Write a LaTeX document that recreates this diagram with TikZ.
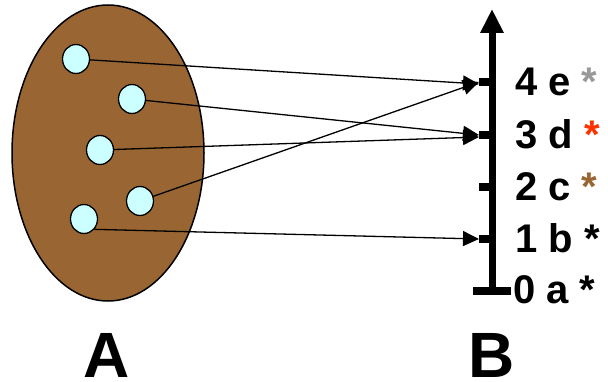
\documentclass[tikz,border=0pt]{standalone}
\usepackage{fontspec}
\setmainfont{Liberation Sans}
\usepackage{tikz}
\usetikzlibrary{shapes.geometric, arrows.meta}

\definecolor{setbrown}{HTML}{996633}
\definecolor{dotcyan}{HTML}{CCFFFF}
\definecolor{stargray}{HTML}{999999}
\definecolor{starred}{HTML}{FF3300}

\begin{document}
\begin{tikzpicture}[
  x=1pt, y=-1pt,
  every node/.style={font=\bfseries},
  elem/.style={ellipse, draw, line width=1.3pt, fill=dotcyan, minimum width=27pt, minimum height=29pt, inner sep=0pt},
  map/.style={-{Triangle[length=16pt,width=15pt]}, line width=1.3pt},
  tick/.style={line width=8pt},
  lab/.style={anchor=base west, font=\bfseries\fontsize{40}{40}\selectfont, inner sep=0pt},
]
  \useasboundingbox (0,0) rectangle (608,382);

  % set A
  \node[ellipse, draw, line width=1.5pt, fill=setbrown, minimum width=192pt, minimum height=296pt] (A) at (108,153) {};
  \node[elem] (a1) at (76,59) {};
  \node[elem] (a2) at (132,99) {};
  \node[elem] (a3) at (100,150) {};
  \node[elem] (a4) at (140,201) {};
  \node[elem] (a5) at (84,219) {};

  % axis B
  \coordinate (bot) at (492,291);
  \coordinate (top) at (492,9);
  \draw[line width=7pt, -{Triangle[length=24pt,width=22pt]}] (bot) -- (top);
  \draw[tick] (473,291) -- (511,291);
  \foreach \y/\n in {82/4, 135/3, 187/2, 239/1} {
    \draw[tick] (479,\y) -- (492,\y);
    \coordinate (t\n) at (479,\y);
  }

  \node[lab] (l4) at (515,96) {4 e {\color{stargray}*}};
  \node[lab] (l3) at (515,149) {3 d {\color{starred}*}};
  \node[lab] (l2) at (515,201) {2 c {\color{setbrown}*}};
  \node[lab] (l1) at (515,253) {1 b *};
  \node[lab] (l0) at (513,303) {0 a *};

  % mapping
  \draw[map] (a1) -- ([yshift=-2pt]t4);
  \draw[map] (a2) -- (t3);
  \draw[map] (a3) -- ([yshift=-2pt]t3);
  \draw[map] (a4) -- (t4);
  \draw[map] (a5.-45) -- (t1);

  \node[font=\bfseries\fontsize{64}{64}\selectfont, anchor=base, inner sep=0pt] (nA) at (107,377) {A};
  \node[font=\bfseries\fontsize{64}{64}\selectfont, anchor=base, inner sep=0pt] (nB) at (492,377) {B};
\end{tikzpicture}
\end{document}
